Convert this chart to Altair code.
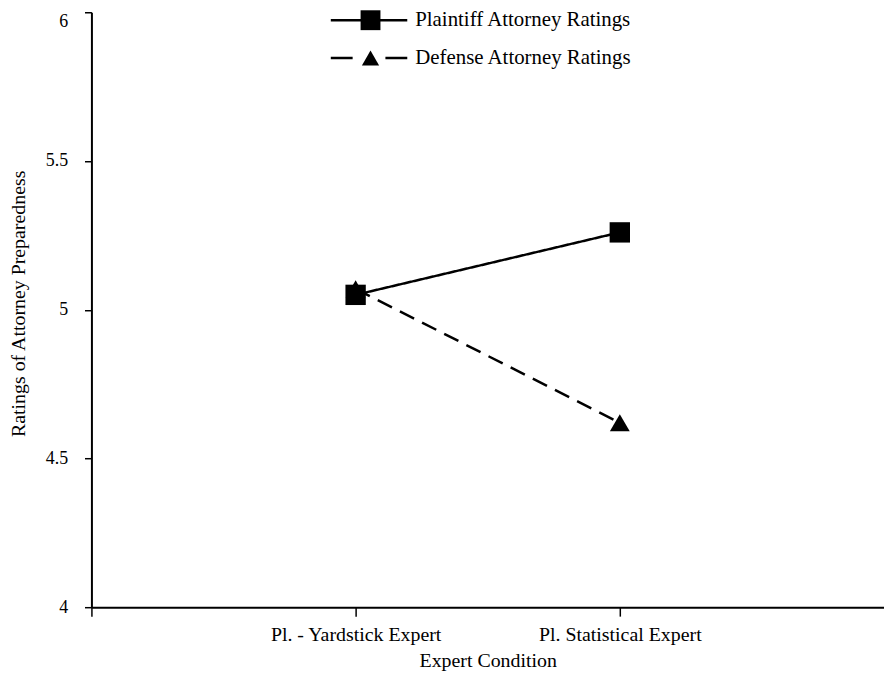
import altair as alt
import pandas as pd

conditions = ["Pl. - Yardstick Expert", "Pl. Statistical Expert"]
series_names = ["Plaintiff Attorney Ratings", "Defense Attorney Ratings"]
plaintiff = [5.05, 5.26]
defense = [5.07, 4.62]
y_ticks = [4, 4.5, 5, 5.5, 6]
x_domain = [" ", conditions[0], conditions[1], "  "]

rows = []
for c, v in zip(conditions, defense):
    rows.append({"cond": c, "rating": v, "series": series_names[1]})
for c, v in zip(conditions, plaintiff):
    rows.append({"cond": c, "rating": v, "series": series_names[0]})
df = pd.DataFrame(rows)
legend_df = pd.DataFrame({"series": series_names})

FONT = "Liberation Serif"

x_enc = alt.X(
    "cond:N",
    sort=None,
    scale=alt.Scale(type="point", domain=x_domain, padding=0),
    axis=alt.Axis(
        title="Expert Condition",
        values=x_domain[:3],
        labelAngle=0,
        tickSize=9,
        labelPadding=9,
        labelFontSize=20,
        titleFontSize=20,
        titlePadding=6,
    ),
)
y_enc = alt.Y(
    "rating:Q",
    scale=alt.Scale(domain=[4, 6], nice=False, zero=False),
    axis=alt.Axis(
        title="Ratings of Attorney Preparedness",
        values=y_ticks,
        format="~g",
        tickSize=7,
        labelPadding=17,
        labelFontSize=18,
        labelBaseline={"condition": {"test": "datum.value === 6", "value": "top"}, "value": "middle"},
        titleFontSize=20,
        titlePadding=17,
        titleY=293,
    ),
)

lines = alt.Chart(df).mark_line(color="black", strokeWidth=2.5).encode(
    x=x_enc,
    y=y_enc,
    strokeDash=alt.StrokeDash(
        "series:N",
        scale=alt.Scale(domain=series_names, range=[[1, 0], [16, 9]]),
        legend=None,
    ),
)

points_def = (
    alt.Chart(df)
    .transform_filter(alt.datum.series == series_names[1])
    .mark_point(filled=True, color="black", opacity=1, size=400, shape="triangle-up")
    .encode(x=x_enc, y=y_enc)
)
points_pl = (
    alt.Chart(df)
    .transform_filter(alt.datum.series == series_names[0])
    .mark_point(filled=True, color="black", opacity=1, size=420, shape="square")
    .encode(x=x_enc, y=y_enc)
)

main = alt.layer(lines, points_def, points_pl)

# legend (drawn as its own small layer, rows placed by an ordinal scale)
leg_y = alt.Y(
    "series:N",
    sort=None,
    scale=alt.Scale(type="point", domain=series_names, range=[8, 46], padding=0),
    axis=None,
)
leg_rules = alt.Chart(legend_df).mark_rule(color="black", strokeWidth=2.5).encode(
    x=alt.value(241),
    x2=alt.value(318),
    y=leg_y,
    strokeDash=alt.StrokeDash(
        "series:N",
        scale=alt.Scale(domain=series_names, range=[[1, 0], [22, 33]]),
        legend=None,
    ),
)
leg_points = alt.Chart(legend_df).mark_point(filled=True, color="black", opacity=1).encode(
    x=alt.value(281),
    y=leg_y,
    shape=alt.Shape(
        "series:N",
        scale=alt.Scale(domain=series_names, range=["square", "triangle-up"]),
        legend=None,
    ),
    size=alt.Size(
        "series:N",
        scale=alt.Scale(domain=series_names, range=[400, 300]),
        legend=None,
    ),
)
leg_text = alt.Chart(legend_df).mark_text(
    align="left", baseline="middle", font=FONT, fontSize=21, color="black"
).encode(
    x=alt.value(326),
    y=leg_y,
    text="series:N",
)
legend = alt.layer(leg_rules, leg_points, leg_text)

chart = (
    alt.layer(main, legend)
    .resolve_scale(y="independent", strokeDash="independent", shape="independent", size="independent")
    .properties(
        width=798,
        height=599,
        autosize=alt.AutoSizeParams(type="none"),
        padding={"left": 84, "top": 2, "right": 0, "bottom": 70},
        background="white",
    )
    .configure_view(stroke=None)
    .configure_axis(
        labelFont=FONT,
        titleFont=FONT,
        labelColor="black",
        titleColor="black",
        titleFontWeight="normal",
        domainColor="black",
        domainWidth=2,
        tickColor="black",
        tickWidth=1.5,
        grid=False,
    )
)

chart.save("out.html", embed_options={"renderer": "svg", "actions": False})
